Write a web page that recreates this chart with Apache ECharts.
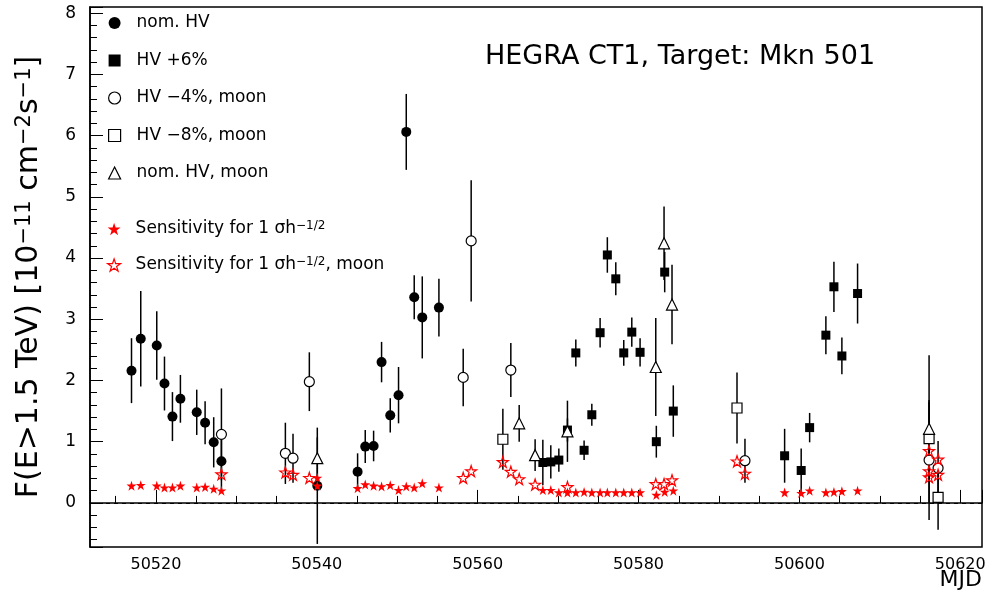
<!DOCTYPE html>
<html><head><meta charset="utf-8">
<script src="https://cdn.jsdelivr.net/npm/echarts@6/dist/echarts.min.js"></script>
<style>html,body{margin:0;padding:0;background:#fff}#c{width:992px;height:593px}</style>
</head><body><div id="c"></div>
<script>
// ---- data (MJD, flux in 1e-11 cm^-2 s^-1, symmetric error) ----
const nomHV_mjd  = [50516.96,50518.11,50520.10,50521.06,50522.05,50523.04,50525.07,50526.11,50527.18,50528.14,50540.06,50545.07,50546.02,50547.06,50548.05,50549.13,50550.16,50551.12,50552.11,50553.11,50555.18];
const nomHV_flux = [2.16,2.68,2.57,1.95,1.41,1.70,1.48,1.31,0.99,0.68,0.28,0.51,0.92,0.93,2.30,1.43,1.76,6.06,3.36,3.03,3.19];
const nomHV_err  = [0.53,0.78,0.56,0.44,0.40,0.39,0.37,0.35,0.41,0.45,0.95,0.30,0.27,0.25,0.33,0.28,0.46,0.62,0.36,0.67,0.47];

const hvP6_mjd  = [50568.10,50569.09,50570.09,50571.16,50572.20,50573.23,50574.19,50575.22,50576.12,50577.17,50578.16,50579.16,50580.19,50582.21,50583.25,50584.32,50598.16,50600.22,50601.27,50603.29,50604.29,50605.28,50607.23];
const hvP6_flux = [0.66,0.67,0.70,1.19,2.45,0.86,1.44,2.78,4.05,3.66,2.45,2.79,2.46,1.00,3.77,1.50,0.77,0.53,1.23,2.74,3.53,2.40,3.42];
const hvP6_err  = [0.37,0.27,0.19,0.19,0.22,0.16,0.18,0.24,0.29,0.27,0.21,0.24,0.23,0.26,0.33,0.42,0.44,0.36,0.24,0.31,0.41,0.30,0.49];

const hvM4moon_mjd  = [50528.14,50536.09,50537.04,50539.07,50558.20,50559.19,50564.12,50593.23,50616.12,50617.24];
const hvM4moon_flux = [1.12,0.81,0.73,1.98,2.05,4.28,2.17,0.69,0.70,0.57];
const hvM4moon_err  = [0.75,0.50,0.40,0.48,0.47,0.99,0.44,0.36,0.98,0.44];

const hvM8moon_mjd  = [50563.13,50592.24,50616.12,50617.24];
const hvM8moon_flux = [1.04,1.55,1.05,0.09];
const hvM8moon_err  = [0.50,0.58,0.60,0.53];

const nomHVmoon_mjd  = [50540.06,50565.16,50567.14,50571.16,50582.14,50583.17,50584.16,50616.12];
const nomHVmoon_flux = [0.73,1.30,0.78,1.17,2.22,4.24,3.24,1.21];
const nomHVmoon_err  = [0.34,0.30,0.26,0.50,0.80,0.60,0.65,1.20];

const sens_mjd = [50516.96,50518.11,50520.10,50521.06,50522.05,50523.04,50525.07,50526.11,50527.18,50528.14,50540.06,50540.06,
  50545.07,50546.02,50547.06,50548.05,50549.13,50550.16,50551.12,50552.11,50553.11,50555.18,
  50568.10,50569.09,50570.09,50571.16,50572.20,50573.23,50574.19,50575.22,50576.12,50577.17,50578.16,50579.16,50580.19,
  50582.21,50583.25,50584.32,50598.16,50600.22,50601.27,50603.29,50604.29,50605.28,50607.23];
const sens_val = [0.28,0.29,0.28,0.25,0.25,0.28,0.25,0.26,0.23,0.20,0.41,0.28,
  0.24,0.30,0.28,0.27,0.29,0.21,0.27,0.25,0.32,0.25,
  0.21,0.21,0.17,0.17,0.17,0.18,0.17,0.17,0.17,0.17,0.17,0.17,0.17,
  0.13,0.18,0.20,0.17,0.16,0.20,0.17,0.18,0.19,0.20];

const sensMoon_mjd = [50528.14,50536.09,50537.04,50539.07,50558.20,50559.19,50563.13,50564.12,50565.16,50567.14,50571.16,
  50582.14,50583.17,50584.16,50592.24,50593.23,50616.12,50617.24,50616.12,50616.12,50617.24];
const sensMoon_val = [0.47,0.50,0.46,0.41,0.41,0.52,0.67,0.51,0.39,0.30,0.26,
  0.31,0.31,0.37,0.68,0.48,0.85,0.71,0.52,0.42,0.46];

const xTickFmt = v => String(v);

// ---- chart ----
const FONT = 'DejaVu Sans';
const STAR = 'path://M0,-10L2.245,-3.09L9.511,-3.09L3.633,1.18L5.878,8.09L0,3.82L-5.878,8.09L-3.633,1.18L-9.511,-3.09L-2.245,-3.09Z';
const pts = (x, y, e) => x.map((v, i) => [v, y[i], e ? e[i] : 0]);

function errSeries(id, data) {
  return {
    type: 'custom', id: id, data: data, z: 2, clip: true, silent: true,
    encode: { x: 0, y: 1 },
    renderItem(params, api) {
      const x = api.value(0), y = api.value(1), e = api.value(2);
      const a = api.coord([x, y + e]), b = api.coord([x, y - e]);
      return { type: 'line', shape: { x1: a[0], y1: a[1], x2: b[0], y2: b[1] },
               style: { stroke: '#000', lineWidth: 1.5 } };
    }
  };
}
const hollow = { color: '#fff', borderColor: '#000', borderWidth: 1.2 };
const legendText = { fontFamily: FONT, fontSize: 17, lineHeight: 18, color: '#000', padding: [0, 0, 0, 11] };

const chart = echarts.init(document.getElementById('c'), null, { renderer: 'canvas' });
chart.setOption({
  animation: false,
  backgroundColor: '#fff',
  title: { text: 'HEGRA CT1, Target: Mkn 501', left: 480, top: 38,
    textStyle: { fontFamily: FONT, fontSize: 27, fontWeight: 'normal', color: '#000' } },
  grid: { left: 90, right: 10, top: 7, bottom: 46, show: true, borderColor: '#000', borderWidth: 1.5 },
  graphic: [
    { type: 'text', right: 10, top: 569, style: { text: 'MJD', fontFamily: FONT, fontSize: 22, fill: '#000' } }
  ],
  legend: [
    { orient: 'vertical', left: 103, top: 9, itemWidth: 12, itemHeight: 12, itemGap: 19.5,
      textStyle: legendText, selectedMode: false,
      data: [
        { name: 'nom. HV', icon: 'circle', itemStyle: { color: '#000' } },
        { name: 'HV +6%', icon: 'rect', itemStyle: { color: '#000' } },
        { name: 'HV −4%, moon', icon: 'circle', itemStyle: hollow },
        { name: 'HV −8%, moon', icon: 'rect', itemStyle: hollow },
        { name: 'nom. HV, moon', icon: 'triangle', itemStyle: hollow }
      ] },
    { orient: 'vertical', left: 102, top: 215, itemWidth: 13, itemHeight: 13, itemGap: 18,
      selectedMode: false,
      textStyle: Object.assign({}, legendText, { padding: [0, 0, 0, 10],
        rich: { s: { fontFamily: FONT, fontSize: 12, lineHeight: 12, verticalAlign: 'top', color: '#000' } } }),
      formatter: n => n === 'sens' ? 'Sensitivity for 1 σh{s|−1/2}' : 'Sensitivity for 1 σh{s|−1/2}, moon',
      data: [
        { name: 'sens', icon: STAR, itemStyle: { color: '#f00' } },
        { name: 'sensMoon', icon: STAR, itemStyle: { color: 'rgba(255,255,255,0)', borderColor: '#f00', borderWidth: 1.2 } }
      ] }
  ],
  xAxis: {
    type: 'value', min: 50511.8, max: 50622.7, splitNumber: 5,
    axisLine: { lineStyle: { color: '#000', width: 1.5 } },
    axisTick: { inside: true, length: 13, lineStyle: { color: '#000' } },
    minorTick: { show: true, splitNumber: 4, length: 7, lineStyle: { color: '#000' } },
    splitLine: { show: false },
    axisLabel: { showMinLabel: false, showMaxLabel: false, formatter: xTickFmt,
      fontFamily: FONT, fontSize: 16, color: '#000', margin: 10 }
  },
  yAxis: {
    type: 'value', min: -0.72, max: 8.1, splitNumber: 9,
    axisLine: { show: true, lineStyle: { color: '#000', width: 1.5 } },
    axisTick: { show: true, inside: true, length: 13, lineStyle: { color: '#000' } },
    minorTick: { show: true, splitNumber: 5, length: 7, lineStyle: { color: '#000' } },
    splitLine: { show: false },
    axisLabel: { showMinLabel: false, showMaxLabel: false, fontFamily: FONT, fontSize: 17, color: '#000', margin: 14 },
    name: 'F(E>1.5 TeV) [10{s|−11} cm{s|−2}s{s|−1}]', nameLocation: 'middle', nameGap: 46,
    nameTextStyle: { fontFamily: FONT, fontSize: 30, color: '#000',
      rich: { s: { fontFamily: FONT, fontSize: 21, lineHeight: 21, verticalAlign: 'top', color: '#000' } } }
  },
  series: [
    errSeries('e1', pts(nomHV_mjd, nomHV_flux, nomHV_err)),
    errSeries('e2', pts(hvP6_mjd, hvP6_flux, hvP6_err)),
    errSeries('e3', pts(hvM4moon_mjd, hvM4moon_flux, hvM4moon_err)),
    errSeries('e4', pts(hvM8moon_mjd, hvM8moon_flux, hvM8moon_err)),
    errSeries('e5', pts(nomHVmoon_mjd, nomHVmoon_flux, nomHVmoon_err)),
    { type: 'scatter', name: 'nom. HV', data: pts(nomHV_mjd, nomHV_flux), symbol: 'circle', symbolSize: 10, z: 3,
      itemStyle: { color: '#000', opacity: 1 },
      markLine: { silent: true, symbol: 'none', label: { show: false }, animation: false,
        lineStyle: { color: '#000', type: [4, 4], width: 1 }, data: [{ yAxis: 0 }] } },
    { type: 'scatter', name: 'HV +6%', data: pts(hvP6_mjd, hvP6_flux), symbol: 'rect', symbolSize: 9, z: 3,
      itemStyle: { color: '#000', opacity: 1 } },
    { type: 'scatter', name: 'HV −4%, moon', data: pts(hvM4moon_mjd, hvM4moon_flux), symbol: 'circle', symbolSize: 10, z: 3,
      itemStyle: Object.assign({ opacity: 1 }, hollow) },
    { type: 'scatter', name: 'HV −8%, moon', data: pts(hvM8moon_mjd, hvM8moon_flux), symbol: 'rect', symbolSize: 10, z: 3,
      itemStyle: Object.assign({ opacity: 1 }, hollow) },
    { type: 'scatter', name: 'nom. HV, moon', data: pts(nomHVmoon_mjd, nomHVmoon_flux), symbol: 'triangle', symbolSize: 11, z: 3,
      itemStyle: Object.assign({ opacity: 1 }, hollow) },
    { type: 'scatter', name: 'sens', data: pts(sens_mjd, sens_val), symbol: STAR, symbolSize: 10, z: 4,
      itemStyle: { color: '#f00', opacity: 1 } },
    { type: 'scatter', name: 'sensMoon', data: pts(sensMoon_mjd, sensMoon_val), symbol: STAR, symbolSize: 11, z: 4,
      itemStyle: { color: 'rgba(255,255,255,0)', borderColor: '#f00', borderWidth: 1.2, opacity: 1 } }
  ]
});
</script></body></html>
